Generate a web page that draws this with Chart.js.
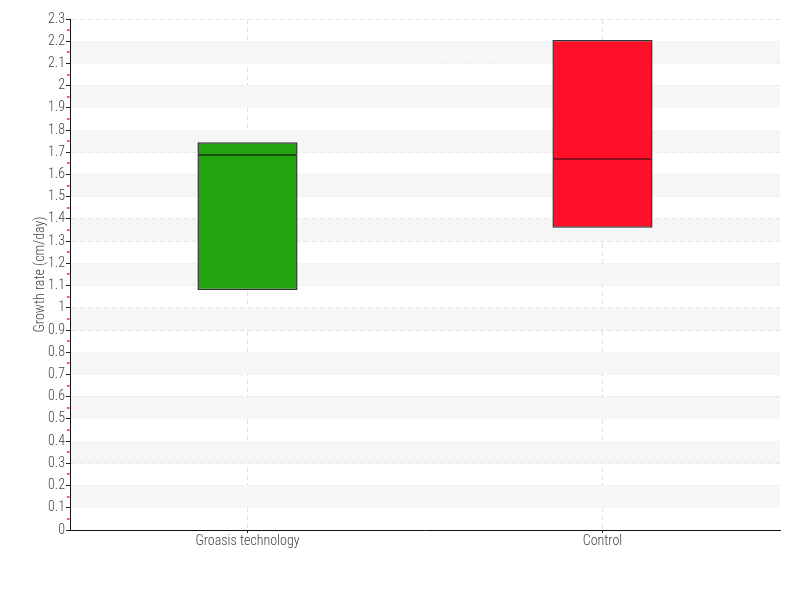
<!DOCTYPE html>
<html>
<head>
<meta charset="utf-8">
<script src="https://cdn.jsdelivr.net/npm/chart.js@4"></script>
<style>
  html, body { margin: 0; padding: 0; background: #fff; }
  #wrap { width: 800px; height: 600px; }
</style>
</head>
<body>
<div id="wrap"><canvas id="growth"></canvas></div>
<script>
// ── Growth rate box chart ──
const categories = ['Groasis technology', 'Control'];
const q1 = [1.08, 1.36];
const median = [1.69, 1.67];
const q3 = [1.745, 2.205];
const boxColors = ['#22a50f', '#ff0f28'];
const medianColors = ['#1d4f14', '#8c0c1a'];
const yTicks = { min: 0, max: 2.3, step: 0.1 };

const FONT = "'Roboto Condensed', 'DejaVu Sans Condensed', Roboto, sans-serif";

// alternate grey bands, median lines, minor red ticks
const boxExtras = {
  id: 'boxExtras',
  beforeDatasetsDraw(chart) {
    const { ctx, chartArea: a, scales: { y } } = chart;
    ctx.save();
    ctx.fillStyle = '#f6f6f6';
    for (let v = 0.1; v < yTicks.max - 0.05; v += 0.2) {
      const top = y.getPixelForValue(v + 0.1), bot = y.getPixelForValue(v);
      ctx.fillRect(a.left + 1, top, a.right - a.left - 1, bot - top);
    }
    ctx.restore();
  },
  afterDatasetsDraw(chart) {
    const { ctx, scales: { y } } = chart;
    const meta = chart.getDatasetMeta(0);
    ctx.save();
    ctx.lineWidth = 2;
    meta.data.forEach((bar, i) => {
      const py = Math.round(y.getPixelForValue(median[i]));
      ctx.strokeStyle = medianColors[i];
      ctx.beginPath();
      ctx.moveTo(bar.x - bar.width / 2 + 1, py);
      ctx.lineTo(bar.x + bar.width / 2 - 1, py);
      ctx.stroke();
    });
    ctx.restore();
  },
  afterDraw(chart) {
    const { ctx, chartArea: a, scales: { y } } = chart;
    ctx.save();
    ctx.strokeStyle = '#ff1a1a';
    ctx.lineWidth = 1.5;
    for (let k = 0; k < 23; k++) {
      const py = Math.round(y.getPixelForValue(k * 0.1 + 0.05));
      ctx.beginPath();
      ctx.moveTo(a.left - 3, py);
      ctx.lineTo(a.left - 0.5, py);
      ctx.stroke();
    }
    ctx.restore();
  }
};

new Chart(document.getElementById('growth'), {
  type: 'bar',
  data: {
    labels: categories,
    datasets: [{
      data: categories.map((c, i) => [q1[i], q3[i]]),
      backgroundColor: boxColors,
      borderColor: '#333',
      borderWidth: 1.5,
      borderSkipped: false,
      barPercentage: 0.282,
      categoryPercentage: 1
    }]
  },
  plugins: [boxExtras],
  options: {
    responsive: true, maintainAspectRatio: false,
    animation: false,
    layout: { padding: { top: 19, right: 20, left: 0, bottom: 0 } },
    plugins: { legend: { display: false }, tooltip: { enabled: false } },
    scales: {
      x: {
        afterFit: s => { s.height = 70; },
        grid: { offset: false, color: '#e2e2e2', tickColor: '#222', tickLength: 3 },
        border: { color: '#111', width: 1, dash: [5, 3] },
        ticks: { color: '#444', font: { family: FONT, size: 14, weight: 300 }, padding: 0 }
      },
      y: {
        min: yTicks.min, max: yTicks.max,
        afterFit: s => { s.width = 70; },
        grid: { color: '#e2e2e2', tickColor: '#222', tickLength: 4 },
        border: { color: '#111', width: 1, dash: [5, 3] },
        title: {
          display: true, text: 'Growth rate (cm/day)', color: '#444',
          font: { family: FONT, size: 14, weight: 300 }, padding: { top: 32, bottom: 0 }
        },
        ticks: {
          stepSize: yTicks.step, color: '#444', padding: 1, autoSkip: false,
          font: { family: FONT, size: 14, weight: 300 },
          callback: v => String(Math.round(v * 10) / 10)
        }
      }
    }
  }
});
</script>
</body>
</html>
